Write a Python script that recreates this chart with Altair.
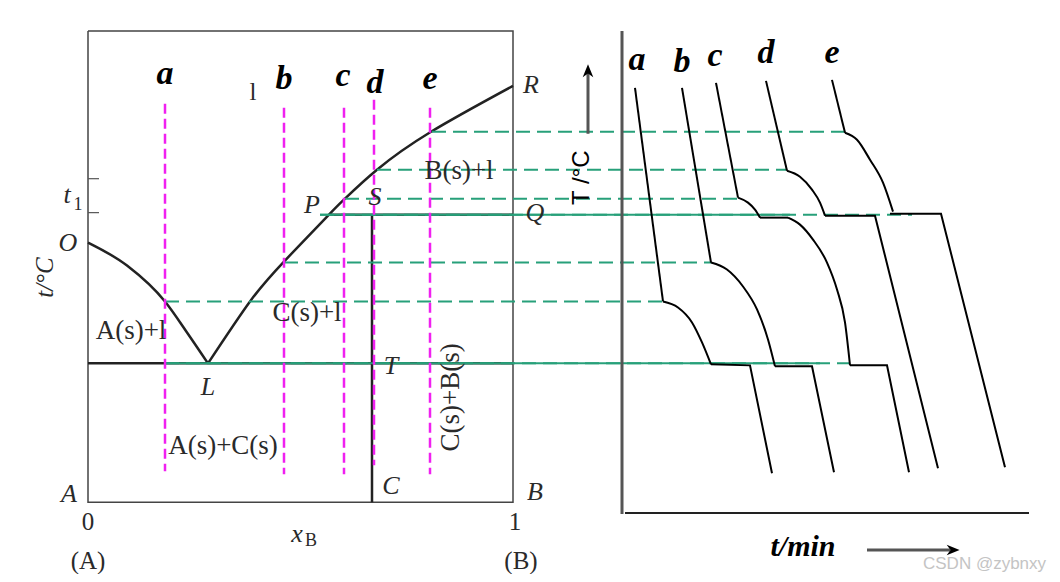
import altair as alt
import pandas as pd

# ---------------- reference frame: picture pixels ----------------
FRAME_X = [8, 1052]
FRAME_Y = [8, 574]

# ---------------- phase diagram (left) ----------------
box_x = [88, 513, 513, 88, 88]
box_y = [31, 31, 503, 503, 31]

liq_left_x = [88, 127, 165, 187, 208]
liq_left_y = [243, 266, 302, 333, 364]
liq_right_x = [208, 250, 284, 329, 345, 377, 431, 513]
liq_right_y = [364, 302, 262, 215, 199, 170, 132, 86]

# eutectic line, peritectic line PQ, compound line S-T-C
bold_x1 = [88, 329, 372]
bold_y1 = [364, 215, 215]
bold_x2 = [513, 513, 372]
bold_y2 = [364, 215, 503]

tick_x1 = [88, 88]
tick_x2 = [99, 99]
tick_y = [179, 213]

# composition verticals a..e (magenta dashed)
mag_x = [165, 284, 344, 374, 430]
mag_top = [104, 108, 108, 100, 108]
mag_bot = [472, 475, 475, 466, 475]

# green dashed guide lines
grn_y = [132, 170, 199, 215, 263, 302, 364]
grn_x1 = [432, 377, 345, 320, 284, 165, 165]
grn_x2 = [845, 786, 738, 912, 711, 663, 850]
grs_y = [215, 364]
grs_x1 = [320, 165]
grs_x2 = [790, 820]

# ---------------- cooling curves (right) ----------------
cool_lines = {
    "a1": ([635, 663], [88, 302]),
    "a2": ([711, 750, 772], [365, 366, 474]),
    "b1": ([682, 711], [88, 263]),
    "b2": ([775, 812, 834], [367, 367, 473]),
    "c1": ([716, 738], [83, 198]),
    "c2": ([760, 788], [218, 218]),
    "c3": ([850, 887, 909], [366, 366, 473]),
    "d1": ([766, 787], [81, 171]),
    "d2": ([825, 875, 938], [216, 216, 469]),
    "e1": ([832, 845], [80, 133]),
    "e2": ([890, 941, 1005], [214, 214, 468]),
}
cool_arcs = {
    "aA": ([663, 678, 692, 702, 711], [302, 308, 323, 343, 365]),
    "bA": ([711, 727, 743, 757, 768, 775], [263, 270, 287, 310, 340, 367]),
    "cA": ([738, 748, 755, 760], [198, 203, 210, 218]),
    "cB": ([788, 800, 813, 827, 837, 845, 850], [218, 225, 240, 263, 290, 323, 366]),
    "dA": ([787, 800, 812, 820, 825], [171, 177, 190, 203, 216]),
    "eA": ([845, 857, 870, 883, 893], [133, 140, 160, 183, 212]),
}

axis_v = ([622, 622], [31, 515])
axis_h = ([625, 1029], [514, 514])
arrow_up = ([588, 588], [134, 72])
arrow_right = ([867, 950], [551, 551])

# ---------------- texts ----------------
letters = ["a", "b", "c", "d", "e"]
letters_left_x = [165, 284, 343, 375, 430]
letters_left_y = [84, 89, 86, 93, 89]
letters_right_x = [637, 682, 715, 766, 832]
letters_right_y = [70, 72, 66, 63, 63]

ital_text = ["O", "R", "P", "S", "Q", "T", "L", "C", "A", "B", "t", "x"]
ital_x = [68, 531, 312, 375, 535, 391, 208, 391, 69, 535, 67, 297]
ital_y = [243, 85, 205, 197, 213, 367, 388, 487, 495, 493, 195, 535]

plain_text = ["0", "1", "(A)", "(B)", "l"]
plain_x = [88, 515, 88, 521, 253]
plain_y = [523, 523, 562, 562, 92]

sub_text = ["1", "B"]
sub_x = [78, 311]
sub_y = [205, 542]

region_text = ["A(s)+l", "C(s)+l", "B(s)+l", "A(s)+C(s)"]
region_x = [131, 307, 459, 223]
region_y = [332, 314, 171, 447]

# ---------------- helpers ----------------
xs = alt.Scale(domain=FRAME_X, nice=False, zero=False)
ys = alt.Scale(domain=FRAME_Y, reverse=True, nice=False, zero=False)


def X(f="x"):
    return alt.X(f + ":Q", scale=xs, axis=None)


def Y(f="y"):
    return alt.Y(f + ":Q", scale=ys, axis=None)


def poly_df(pieces):
    rows = []
    for k, (px, py) in pieces.items():
        for i, (a, b) in enumerate(zip(px, py)):
            rows.append({"id": k, "ord": i, "x": a, "y": b})
    return pd.DataFrame(rows)


def lines(pieces, interp="linear", **mk):
    return alt.Chart(poly_df(pieces)).mark_line(interpolate=interp, **mk).encode(
        x=X(), y=Y(), detail="id:N", order="ord:Q")


def rules(x1, y1, x2, y2, **mk):
    df = pd.DataFrame({"x1": x1, "y1": y1, "x2": x2, "y2": y2})
    return alt.Chart(df).mark_rule(**mk).encode(
        x=X("x1"), y=Y("y1"), x2="x2:Q", y2="y2:Q")


def texts(t, x, y, **mk):
    df = pd.DataFrame({"t": t, "x": x, "y": y})
    return alt.Chart(df).mark_text(**mk).encode(x=X(), y=Y(), text="t:N")


SERIF = "Liberation Serif"
SANS = "Liberation Sans"
GREEN = "#27a07a"
MAG = "#f020f0"
INK = "#2a2a2a"

layers = [
    # frame of phase diagram
    lines({"box": (box_x, box_y)}, color="#444444", strokeWidth=1.5),
    rules(tick_x1, tick_y, tick_x2, tick_y, color="#555555", strokeWidth=1.2),
    # liquidus curves
    lines({"OL": (liq_left_x, liq_left_y)}, interp="monotone", color="#222222", strokeWidth=2.5),
    lines({"LR": (liq_right_x, liq_right_y)}, interp="natural", color="#222222", strokeWidth=2.5),
    rules(bold_x1, bold_y1, bold_x2, bold_y2, color="#222222", strokeWidth=2.5),
    # green guide lines
    rules(grs_x1, grs_y, grs_x2, grs_y, color=GREEN, strokeWidth=2),
    rules(grn_x1, grn_y, grn_x2, grn_y, color=GREEN, strokeWidth=2, strokeDash=[14, 7]),
    # magenta composition lines
    rules(mag_x, mag_top, mag_x, mag_bot, color=MAG, strokeWidth=2.5, strokeDash=[10, 5]),
    # cooling curves
    lines(cool_lines, color="black", strokeWidth=2),
    lines(cool_arcs, interp="monotone", color="black", strokeWidth=2),
    # right axes
    lines({"v": axis_v}, color="#555555", strokeWidth=3),
    lines({"h": axis_h}, color="#222222", strokeWidth=2),
    lines({"up": arrow_up, "rt": arrow_right}, color="#555555", strokeWidth=3),
    alt.Chart(pd.DataFrame({"x": [588], "y": [72]})).mark_point(
        shape="M0,-1L0.7,0.7L0,0.2L-0.7,0.7Z", filled=True, size=230,
        color="black", opacity=1).encode(x=X(), y=Y()),
    alt.Chart(pd.DataFrame({"x": [952], "y": [551]})).mark_point(
        shape="M1,0L-0.7,0.7L-0.2,0L-0.7,-0.7Z", filled=True, size=230,
        color="black", opacity=1).encode(x=X(), y=Y()),
    # texts
    texts(letters, letters_left_x, letters_left_y, font=SERIF, fontSize=34,
          fontStyle="italic", fontWeight="bold", align="center", baseline="alphabetic"),
    texts(letters, letters_right_x, letters_right_y, font=SERIF, fontSize=34,
          fontStyle="italic", fontWeight="bold", align="center", baseline="alphabetic"),
    texts(ital_text, ital_x, ital_y, font=SERIF, fontSize=26, fontStyle="italic",
          align="center", baseline="middle", color=INK),
    texts(plain_text, plain_x, plain_y, font=SERIF, fontSize=25,
          align="center", baseline="middle", color=INK),
    texts(sub_text, sub_x, sub_y, font=SERIF, fontSize=18,
          align="center", baseline="middle", color=INK),
    texts(region_text, region_x, region_y, font=SERIF, fontSize=27,
          align="center", baseline="middle", color=INK),
    texts(["C(s)+B(s)"], [451], [398], font=SERIF, fontSize=27, angle=270,
          align="center", baseline="middle", color=INK),
    texts(["t/°C"], [45], [278], font=SERIF, fontSize=25, angle=270, fontStyle="italic",
          align="center", baseline="middle", color=INK),
    texts(["T /°C"], [582], [178], font=SANS, fontSize=24, angle=270,
          align="center", baseline="middle", color="black"),
    texts(["t/min"], [803], [548], font=SERIF, fontSize=30, fontStyle="italic",
          fontWeight="bold", align="center", baseline="middle", color="black"),
    texts(["CSDN @zybnxy"], [923], [565], font=SANS, fontSize=17,
          align="left", baseline="middle", color="#c4c4c4"),
]

chart = alt.layer(*layers).properties(
    width=1044, height=566, padding=0, background="white",
    autosize=alt.AutoSizeParams(type="fit", contains="padding"),
).configure_view(stroke=None)

chart.save("out.html", embed_options={"renderer": "svg", "actions": False})
